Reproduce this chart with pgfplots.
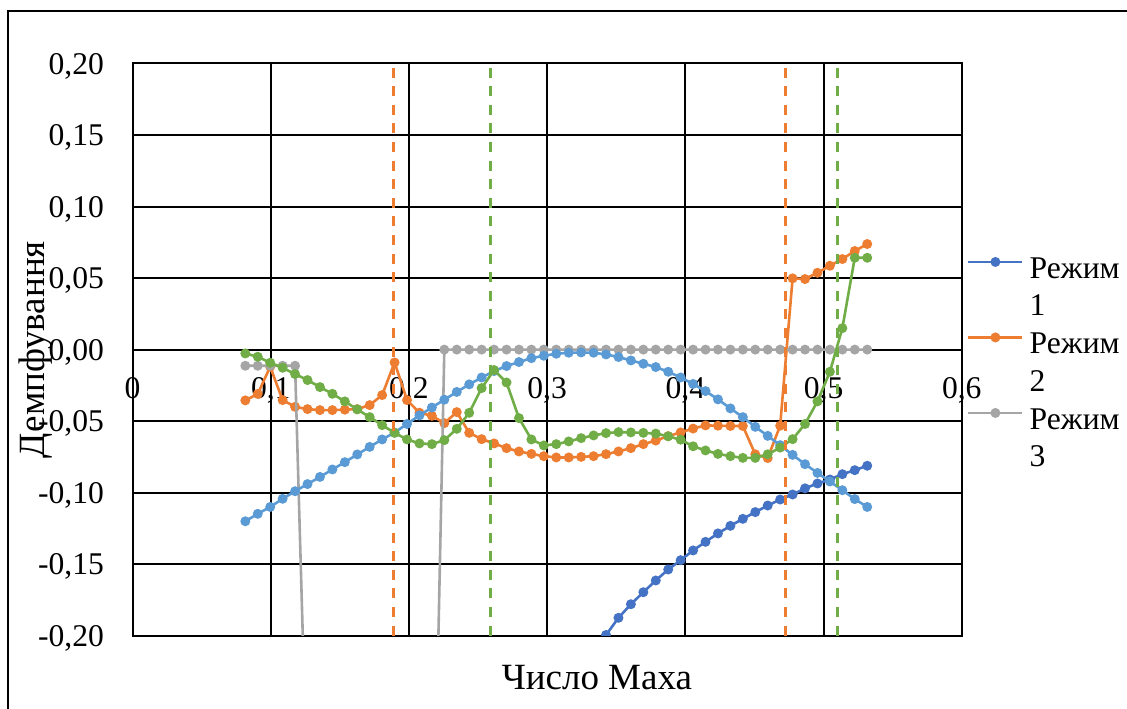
\documentclass[border=0pt]{standalone}
\usepackage{pgfplots}
\pgfplotsset{compat=1.18}
\usepackage{fontspec}
\setmainfont{Liberation Serif}
\definecolor{cDB}{HTML}{4472C4}
\definecolor{cOR}{HTML}{ED7D31}
\definecolor{cGY}{HTML}{A5A5A5}
\definecolor{cLB}{HTML}{5B9BD5}
\definecolor{cGR}{HTML}{70AD47}
\newcommand\tickfont{\fontsize{15.8bp}{18bp}\selectfont}
\newcommand\titlefont{\fontsize{18.5bp}{22bp}\selectfont}
\pgfplotsset{
  ser/.style={color=#1, line width=1.3bp, mark=*, mark size=1.8bp, mark options={solid, fill=#1, draw=#1}},
  vdash/.style={color=#1, line width=1.5bp, dash pattern=on 5bp off 4.3bp, mark=none},
}
\begin{document}
\begin{tikzpicture}
\useasboundingbox (0,0) rectangle (563.5bp,354.5bp);
\draw[line width=1bp, black] (4.15bp,-10bp) -- (4.15bp,349bp) -- (600bp,349bp);
\begin{axis}[
  at={(66.275bp,36.65bp)}, anchor=south west,
  scale only axis, width=414.6bp, height=286.1bp,
  xmin=0, xmax=0.6, ymin=-0.2, ymax=0.2,
  xtick={0,0.1,0.2,0.3,0.4,0.5,0.6},
  ytick={-0.2,-0.15,-0.1,-0.05,0,0.05,0.1,0.15,0.2},
  grid=major, grid style={black, line width=1bp},
  axis line style={black, line width=1bp},
  major tick length=0pt, tick style={draw=none},
  clip marker paths=true,
  /pgf/number format/assume math mode=true,
  xticklabel style={font=\tickfont, inner sep=0pt, anchor=north, yshift=129.55bp, /pgf/number format/.cd, fixed, precision=1, use comma},
  yticklabel style={font=\tickfont, inner sep=0pt, anchor=east, xshift=-14.1bp, text depth=0pt, /pgf/number format/.cd, fixed, fixed zerofill, precision=2, use comma},
  xlabel={Число Маха},
  xlabel style={font=\titlefont, at={(axis description cs:0.56,-0.0932)}, anchor=base},
  ylabel={Демпфування},
  ylabel style={font=\titlefont, at={(axis description cs:-0.1163,0.5)}, anchor=center},
  legend cell align=left,
  legend style={at={(axis description cs:1.006,0.6745)}, anchor=north west, draw=none, fill=none, inner sep=0pt, row sep=3.475bp, column sep=3bp, font=\tickfont, nodes={inner sep=0pt, text height=14bp, text depth=1.4bp}},
  legend image code/.code={\draw[mark repeat=2,mark phase=2,#1] plot coordinates {(0bp,1.8bp) (13.5bp,1.8bp) (27bp,1.8bp)};},
]
% Режим 1
\addplot[ser=cDB, forget plot] coordinates {
(0.3336,-0.214)(0.3426,-0.1995)(0.3516,-0.1875)(0.3606,-0.178)(0.3696,-0.1696)(0.3786,-0.1614)(0.3876,-0.1537)(0.3966,-0.1472)(0.4056,-0.1404)(0.4146,-0.1344)(0.4236,-0.1285)(0.4326,-0.1232)(0.4416,-0.1183)(0.4506,-0.1136)(0.4596,-0.109)(0.4686,-0.1048)(0.4776,-0.1013)(0.4866,-0.097)(0.4956,-0.0936)(0.5046,-0.0908)(0.5136,-0.0871)(0.5226,-0.0843)(0.5316,-0.0812)};
% Режим 2
\addplot[ser=cOR, forget plot] coordinates {
(0.0816,-0.0355)(0.0906,-0.031)(0.0996,-0.012)(0.1086,-0.0353)(0.1176,-0.040)(0.1266,-0.0416)(0.1356,-0.0423)(0.1446,-0.0423)(0.1536,-0.042)(0.1626,-0.0416)(0.1716,-0.0388)(0.1806,-0.0318)(0.1896,-0.009)(0.1986,-0.0353)(0.2076,-0.0441)(0.2166,-0.0463)(0.2256,-0.0514)(0.2346,-0.0437)(0.2436,-0.0582)(0.2526,-0.0626)(0.2616,-0.0656)(0.2706,-0.0689)(0.2796,-0.0712)(0.2886,-0.0729)(0.2976,-0.0745)(0.3066,-0.0754)(0.3156,-0.0754)(0.3246,-0.075)(0.3336,-0.0745)(0.3426,-0.0731)(0.3516,-0.0712)(0.3606,-0.0689)(0.3696,-0.0661)(0.3786,-0.0636)(0.3876,-0.0605)(0.3966,-0.0579)(0.4056,-0.0552)(0.4146,-0.053)(0.4236,-0.0532)(0.4326,-0.0534)(0.4416,-0.0534)(0.4506,-0.0732)(0.4596,-0.0758)(0.4686,-0.0532)(0.4776,0.0498)(0.4866,0.0493)(0.4956,0.0537)(0.5046,0.0586)(0.5136,0.0633)(0.5226,0.0689)(0.5316,0.0738)};
% Режим 3
\addplot[ser=cGY, forget plot] coordinates {
(0.0816,-0.0113)(0.0906,-0.0113)(0.0996,-0.0113)(0.1086,-0.0113)(0.1176,-0.0113)(0.1266,-0.316)(0.1356,-0.34)(0.1446,-0.36)(0.1536,-0.38)(0.1626,-0.40)(0.1716,-0.41)(0.1806,-0.42)(0.1896,-0.42)(0.1986,-0.42)(0.2076,-0.42)(0.2166,-0.42)(0.2256,0)(0.2346,0)(0.2436,0)(0.2526,0)(0.2616,0)(0.2706,0)(0.2796,0)(0.2886,0)(0.2976,0)(0.3066,0)(0.3156,0)(0.3246,0)(0.3336,0)(0.3426,0)(0.3516,0)(0.3606,0)(0.3696,0)(0.3786,0)(0.3876,0)(0.3966,0)(0.4056,0)(0.4146,0)(0.4236,0)(0.4326,0)(0.4416,0)(0.4506,0)(0.4596,0)(0.4686,0)(0.4776,0)(0.4866,0)(0.4956,0)(0.5046,0)(0.5136,0)(0.5226,0)(0.5316,0)};
% light blue series
\addplot[ser=cLB, forget plot] coordinates {
(0.0816,-0.120)(0.0906,-0.1148)(0.0996,-0.110)(0.1086,-0.1043)(0.1176,-0.099)(0.1266,-0.094)(0.1356,-0.089)(0.1446,-0.0838)(0.1536,-0.0787)(0.1626,-0.0733)(0.1716,-0.068)(0.1806,-0.0628)(0.1896,-0.058)(0.1986,-0.052)(0.2076,-0.046)(0.2166,-0.0405)(0.2256,-0.035)(0.2346,-0.0296)(0.2436,-0.0243)(0.2526,-0.0195)(0.2616,-0.015)(0.2706,-0.0115)(0.2796,-0.0087)(0.2886,-0.006)(0.2976,-0.0043)(0.3066,-0.0029)(0.3156,-0.0022)(0.3246,-0.002)(0.3336,-0.0022)(0.3426,-0.0034)(0.3516,-0.0052)(0.3606,-0.0076)(0.3696,-0.0099)(0.3786,-0.0122)(0.3876,-0.0155)(0.3966,-0.0195)(0.4056,-0.024)(0.4146,-0.029)(0.4236,-0.0348)(0.4326,-0.0411)(0.4416,-0.0472)(0.4506,-0.054)(0.4596,-0.0603)(0.4686,-0.0668)(0.4776,-0.0736)(0.4866,-0.0801)(0.4956,-0.0862)(0.5046,-0.0922)(0.5136,-0.0983)(0.5226,-0.1045)(0.5316,-0.110)};
% green series
\addplot[ser=cGR, forget plot] coordinates {
(0.0816,-0.0027)(0.0906,-0.005)(0.0996,-0.0092)(0.1086,-0.0127)(0.1176,-0.0171)(0.1266,-0.0213)(0.1356,-0.0262)(0.1446,-0.0309)(0.1536,-0.0362)(0.1626,-0.0418)(0.1716,-0.0472)(0.1806,-0.0528)(0.1896,-0.0582)(0.1986,-0.0628)(0.2076,-0.0656)(0.2166,-0.0661)(0.2256,-0.0633)(0.2346,-0.0554)(0.2436,-0.0442)(0.2526,-0.0269)(0.2616,-0.0143)(0.2706,-0.023)(0.2796,-0.0479)(0.2886,-0.0628)(0.2976,-0.067)(0.3066,-0.0661)(0.3156,-0.0642)(0.3246,-0.0619)(0.3336,-0.060)(0.3426,-0.0584)(0.3516,-0.0577)(0.3606,-0.0579)(0.3696,-0.0582)(0.3786,-0.0587)(0.3876,-0.0606)(0.3966,-0.063)(0.4056,-0.0676)(0.4146,-0.0705)(0.4236,-0.0729)(0.4326,-0.0745)(0.4416,-0.0757)(0.4506,-0.0757)(0.4596,-0.0732)(0.4686,-0.0685)(0.4776,-0.0626)(0.4866,-0.052)(0.4956,-0.0362)(0.5046,-0.0155)(0.5136,0.015)(0.5226,0.0642)(0.5316,0.0642)};
% dashed vertical lines
\addplot[vdash=cOR, forget plot] coordinates {(0.1885,-0.2)(0.1885,0.2)};
\addplot[vdash=cOR, forget plot] coordinates {(0.4722,-0.2)(0.4722,0.2)};
\addplot[vdash=cGR, forget plot] coordinates {(0.2587,-0.2)(0.2587,0.2)};
\addplot[vdash=cGR, forget plot] coordinates {(0.5103,-0.2)(0.5103,0.2)};
% legend
\addlegendimage{ser=cDB}
\addlegendentry{Режим}
\addlegendimage{empty legend}
\addlegendentry{1}
\addlegendimage{ser=cOR}
\addlegendentry{Режим}
\addlegendimage{empty legend}
\addlegendentry{2}
\addlegendimage{ser=cGY}
\addlegendentry{Режим}
\addlegendimage{empty legend}
\addlegendentry{3}
\end{axis}
\end{tikzpicture}
\end{document}
